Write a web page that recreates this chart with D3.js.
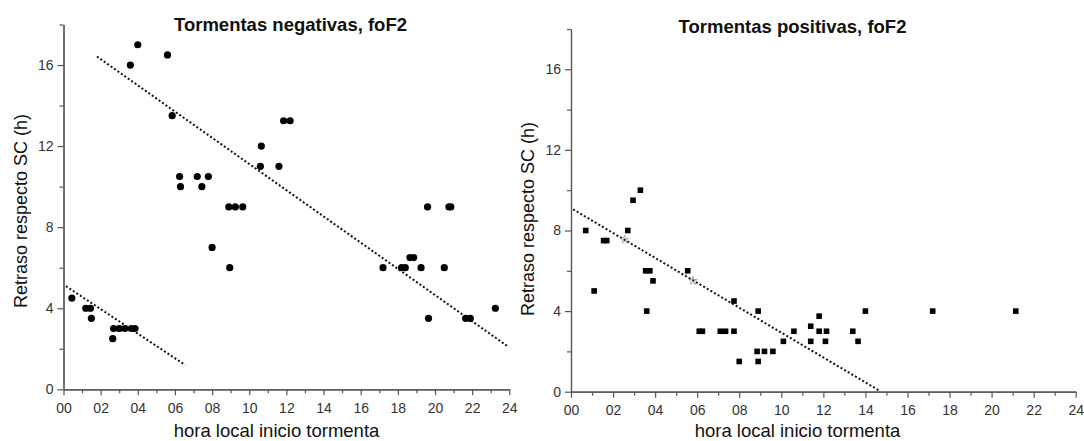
<!DOCTYPE html>
<html>
<head>
<meta charset="utf-8">
<script src="https://cdn.jsdelivr.net/npm/d3@7"></script>
<style>
  body { margin: 0; background: #fff; }
  text { font-family: "Liberation Sans", Arial, sans-serif; }
  .axis path, .axis line { stroke: #555; stroke-width: 1.2; }
  .axis text { fill: #333; font-size: 14px; }
</style>
</head>
<body>
<svg id="vis" width="1084" height="441"></svg>
<script>
const width = 1084;
const height = 441;

// negative storms (circles)
const negHour = [3.6, 4.0, 5.6, 5.85, 6.25, 6.3, 7.2, 7.45, 7.8, 8.0, 8.95, 8.9, 9.25, 9.65,
  10.65, 10.6, 11.6, 11.85, 12.2, 17.2, 18.2, 18.4, 18.65, 18.85, 19.25, 20.5, 19.6, 20.75, 20.85,
  19.65, 21.65, 21.9, 23.25,
  0.45, 1.2, 1.45, 1.5, 2.65, 2.7, 3.0, 3.3, 3.65, 3.85];
const negDelay = [16, 17, 16.5, 13.5, 10.5, 10, 10.5, 10, 10.5, 7, 6, 9, 9, 9,
  12, 11, 11, 13.25, 13.25, 6, 6, 6, 6.5, 6.5, 6, 6, 9, 9, 9,
  3.5, 3.5, 3.5, 4,
  4.5, 4, 4, 3.5, 2.5, 3, 3, 3, 3, 3];

// fitted lines for negative storms (endpoints, data units)
const negFitHigh = { hour: [1.8, 23.9], delay: [16.42, 2.13] };
const negFitLow = { hour: [0.13, 6.55], delay: [5.09, 1.2] };

// positive storms (squares)
const posHour = [0.7, 1.1, 1.55, 1.7, 2.7, 2.95, 3.3, 3.55, 3.75, 3.6, 3.9, 5.55, 6.1, 6.25,
  7.1, 7.35, 7.75, 7.75, 8.0, 8.9, 8.85, 8.9, 9.2, 9.6, 10.1, 10.6,
  11.4, 11.4, 11.8, 11.8, 12.15, 12.1, 13.4, 13.65, 14.0, 17.2, 21.15];
const posDelay = [8, 5, 7.5, 7.5, 8, 9.5, 10, 6, 6, 4, 5.5, 6, 3, 3,
  3, 3, 3, 4.5, 1.5, 4, 2, 1.5, 2, 2, 2.5, 3,
  3.25, 2.5, 3.75, 3, 3, 2.5, 3, 2.5, 4, 4, 4];
// faint grey markers on the fitted line
const posFaintHour = [2.55, 5.8];
const posFaintDelay = [7.55, 5.5];
const posFit = { hour: [0.1, 14.7], delay: [9.05, 0.03] };

const xMajor = d3.range(0, 25, 2);
const xMinor = d3.range(1, 24, 2);
const yMajor = [0, 4, 8, 12, 16];
const yMinor = [2, 6, 10, 14, 18];

const svg = d3.select("#vis");

function drawPanel(opt) {
  const x = d3.scaleLinear().domain([0, 24]).range(opt.xRange);
  const y = d3.scaleLinear().domain([0, 18]).range(opt.yRange);
  const g = svg.append("g");

  // minor ticks first, then major with labels
  g.append("g").attr("class", "axis")
    .attr("transform", "translate(0," + opt.yRange[0] + ")")
    .call(d3.axisBottom(x).tickValues(xMinor).tickSize(4).tickSizeOuter(0).tickFormat(""));
  g.append("g").attr("class", "axis")
    .attr("transform", "translate(0," + opt.yRange[0] + ")")
    .call(d3.axisBottom(x).tickValues(xMajor).tickSize(6).tickSizeOuter(0)
      .tickPadding(7.5).tickFormat(d3.format("02d")));

  g.append("g").attr("class", "axis")
    .attr("transform", "translate(" + opt.xRange[0] + ",0)")
    .call(d3.axisLeft(y).tickValues(yMinor).tickSize(4).tickSizeOuter(0).tickFormat(""));
  g.append("g").attr("class", "axis")
    .attr("transform", "translate(" + opt.xRange[0] + ",0)")
    .call(d3.axisLeft(y).tickValues(yMajor).tickSize(6).tickSizeOuter(0).tickPadding(4));

  // fitted dotted lines
  const line = d3.line().x(d => x(d[0])).y(d => y(d[1]));
  opt.fits.forEach(function(f) {
    g.append("path")
      .attr("d", line(d3.zip(f.hour, f.delay)))
      .attr("fill", "none")
      .attr("stroke", "#111")
      .attr("stroke-width", 2)
      .attr("stroke-dasharray", "2,2.2");
  });

  const pts = d3.zip(opt.hour, opt.delay);
  if (opt.shape === "circle") {
    g.selectAll("circle.pt").data(pts).enter().append("circle")
      .attr("class", "pt")
      .attr("cx", d => x(d[0]))
      .attr("cy", d => y(d[1]))
      .attr("r", 3.6)
      .attr("fill", "#000");
  } else {
    const s = 5.6;
    g.selectAll("rect.pt").data(pts).enter().append("rect")
      .attr("class", "pt")
      .attr("x", d => x(d[0]) - s / 2)
      .attr("y", d => y(d[1]) - s / 2)
      .attr("width", s)
      .attr("height", s)
      .attr("fill", "#000");
  }

  if (opt.faint) {
    g.selectAll("path.faint").data(d3.zip(opt.faint.hour, opt.faint.delay)).enter().append("path")
      .attr("class", "faint")
      .attr("transform", d => "translate(" + x(d[0]) + "," + y(d[1]) + ")")
      .attr("d", d3.symbol().type(d3.symbolStar).size(22))
      .attr("fill", "none")
      .attr("stroke", "#999")
      .attr("stroke-width", 0.8);
  }

  // titles
  g.append("text")
    .attr("x", opt.titleX).attr("y", opt.titleY)
    .attr("text-anchor", "middle")
    .style("font-size", "18.5px").style("font-weight", "bold").style("fill", "#111")
    .text(opt.title);

  g.append("text")
    .attr("x", opt.xLabelX).attr("y", opt.xLabelY)
    .attr("text-anchor", "middle")
    .style("font-size", "18.5px").style("fill", "#111")
    .text("hora local inicio tormenta");

  g.append("text")
    .attr("transform", "translate(" + opt.yLabelX + "," + opt.yLabelY + ") rotate(-90)")
    .attr("text-anchor", "middle")
    .style("font-size", "18px").style("fill", "#111")
    .text("Retraso respecto SC (h)");
}

drawPanel({
  xRange: [63.5, 509.3], yRange: [389.3, 24.5],
  hour: negHour, delay: negDelay, shape: "circle",
  fits: [negFitHigh, negFitLow],
  title: "Tormentas negativas, foF2", titleX: 290.5, titleY: 31,
  xLabelX: 276.5, xLabelY: 436.5,
  yLabelX: 27, yLabelY: 211
});

drawPanel({
  xRange: [571, 1075.7], yRange: [391.7, 29],
  hour: posHour, delay: posDelay, shape: "square",
  fits: [posFit],
  faint: { hour: posFaintHour, delay: posFaintDelay },
  title: "Tormentas positivas, foF2", titleX: 792.5, titleY: 32.5,
  xLabelX: 797.5, xLabelY: 437,
  yLabelX: 533.5, yLabelY: 219
});
</script>
</body>
</html>
